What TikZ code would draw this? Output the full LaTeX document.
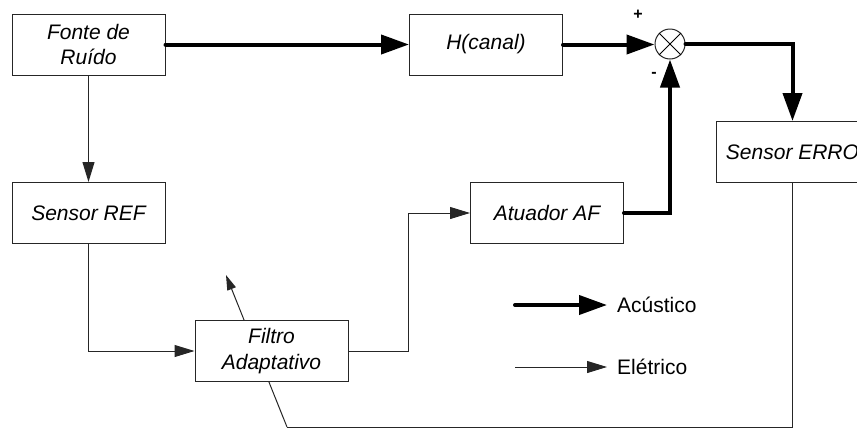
\documentclass[tikz,border=0pt]{standalone}
\usepackage{fontspec}
\setmainfont{Liberation Sans}
\usetikzlibrary{arrows.meta}
\begin{document}
\begin{tikzpicture}[x=1pt,y=-1pt,
  blk/.style={draw=black!85, line width=1pt, fill=white, minimum width=153pt, minimum height=61pt, inner sep=0pt, align=center, font=\fontsize{21}{25.5}\selectfont\itshape},
  ac/.style={line width=4pt, line cap=round, -{Triangle[length=28pt,width=19pt]}},
  el/.style={line width=1pt, draw=black!85, -{Triangle[length=20pt,width=12pt]}},
  ell/.style={line width=1pt, draw=black!85},
  adj/.style={line width=1pt, draw=black!85, -{Triangle[length=15pt,width=9pt]}},
  lbl/.style={font=\fontsize{21}{25}\selectfont, anchor=west, inner sep=0pt},
  sgn/.style={font=\fontsize{16}{18}\selectfont\bfseries, inner sep=0pt}]
\useasboundingbox (0,0) rectangle (857,429);
\clip (0,0) rectangle (857,429);
% adaptation arrow (drawn under the filter box)
\coordinate (c1) at (287,427);
\coordinate (tip) at (226,275);
\draw[adj] (c1) -- (tip);
% blocks
\node[blk] (fonte) at (88.5,44.5) {Fonte de\\Ruído};
\node[blk] (sref) at (88.5,213) {Sensor REF};
\node[blk] (hc) at (486,44.5) {H(canal)};
\node[blk] (at) at (547,213) {Atuador AF};
\node[blk] (filt) at (271.5,351) {Filtro\\Adaptativo};
\node[blk] (err) at (792.5,152) {Sensor ERRO};
\node[draw=black!85, line width=1pt, fill=white, circle, minimum size=30pt, inner sep=0pt] (sum) at (670,44) {};
\draw[line width=0.8pt] (sum.north west) -- (sum.south east) (sum.north east) -- (sum.south west);
\node[sgn] (plus) at (638,15) {+};
\node[sgn] (minus) at (654,75) {-};
% acoustic paths
\draw[ac] (fonte.east) -- (hc.west);
\draw[ac] (hc.east) -- (hc.east -| sum.west);
\draw[ac] (at.east) -| (sum.south);
\draw[ac] (sum.east) -| (err.north);
% electric paths
\draw[el] (fonte.south) -- (sref.north);
\draw[el] (sref.south) |- (filt.west);
\draw[el] (filt.east) -- ++(60,0) |- (at.west);
\draw[ell] (err.south) |- (c1);
% legend
\coordinate (la1) at (515,305);
\coordinate (la2) at (607,305);
\coordinate (le1) at (515,367);
\coordinate (le2) at (607,367);
\draw[ac] (la1) -- (la2);
\draw[el] (le1) -- (le2);
\node[lbl] (lt1) at (617,305) {Acústico};
\node[lbl] (lt2) at (617,367) {Elétrico};
\end{tikzpicture}
\end{document}
